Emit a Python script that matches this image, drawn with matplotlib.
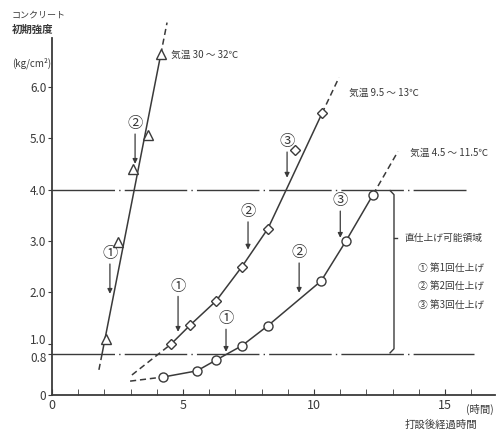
"""Concrete early strength vs elapsed time after placing, three temperature ranges."""
import matplotlib
matplotlib.use("Agg")
import matplotlib.pyplot as plt
from matplotlib.transforms import ScaledTranslation

plt.rcParams["font.family"] = ["Noto Sans CJK JP", "DejaVu Sans"]

INK = "#3a3a3a"

# --- data --------------------------------------------------------------
# 気温 30～32℃ (triangles)
hot_x = [2.06, 2.53, 3.10, 3.66, 4.16]
hot_y = [1.09, 2.97, 4.39, 5.07, 6.63]
hot_fit_x = [1.91, 4.15]
hot_fit_y = [0.80, 6.63]
hot_lo_x, hot_lo_y = [1.79, 1.91], [0.49, 0.80]
hot_hi_x, hot_hi_y = [4.15, 4.39], [6.63, 7.25]

# 気温 9.5～13℃ (diamonds)
mid_x = [4.54, 5.27, 6.26, 7.25, 8.24, 9.27, 10.30]
mid_y = [0.99, 1.36, 1.83, 2.50, 3.24, 4.76, 5.48]
mid_fit_x = [4.54, 5.27, 6.26, 7.25, 8.24, 8.97, 10.30]
mid_fit_y = [0.99, 1.36, 1.83, 2.50, 3.24, 4.03, 5.48]
mid_lo_x, mid_lo_y = [3.05, 4.54], [0.39, 0.99]
mid_hi_x, mid_hi_y = [10.30, 10.95], [5.48, 6.18]

# 気温 4.5～11.5℃ (circles)
cold_x = [4.24, 5.53, 6.26, 7.25, 8.24, 10.27, 11.22, 12.25]
cold_y = [0.35, 0.47, 0.68, 0.96, 1.35, 2.22, 3.00, 3.90]
cold_lo_x, cold_lo_y = [2.98, 4.24], [0.27, 0.35]
cold_hi_x, cold_hi_y = [12.25, 13.20], [3.90, 4.74]

# finishing-pass markers: (label, x, circle y, arrow tip y)
passes = [
    ("②", 3.17, 5.28, 4.50), ("①", 2.21, 2.75, 1.97),
    ("①", 4.81, 2.12, 1.23), ("②", 7.48, 3.57, 2.83), ("③", 8.97, 4.93, 4.23),
    ("①", 6.64, 1.48, 0.84), ("②", 9.43, 2.77, 1.99), ("③", 11.0, 3.78, 3.06),
]

temp_labels = [("気温 30 ～ 32℃", 4.55, 6.63),
               ("気温 9.5 ～ 13℃", 11.35, 5.88),
               ("気温 4.5 ～ 11.5℃", 13.65, 4.72)]

y_ticks = [0, 0.8, 1.0, 2.0, 3.0, 4.0, 5.0, 6.0]
y_tick_labels = ["0", "0.8", "1.0", "2.0", "3.0", "4.0", "5.0", "6.0"]
x_ticks = [0, 5, 10, 15]
upper_limit, lower_limit = 4.0, 0.8

# --- figure ---------------------------------------------------------------
fig = plt.figure(figsize=(5.01, 4.37), dpi=100)
ax = fig.add_axes([0.1038, 0.0961, 0.884, 0.817])
ax.set_xlim(0, 16.9)
ax.set_ylim(0, 6.95)

for s in ("top", "right"):
    ax.spines[s].set_visible(False)
for s in ("left", "bottom"):
    ax.spines[s].set_color(INK)
    ax.spines[s].set_linewidth(1.3)

ax.set_xticks(x_ticks)
ax.set_xticks(range(0, 17), minor=True)
ax.tick_params(axis="x", which="both", direction="in", length=4, color=INK,
               labelsize=9, labelcolor=INK, pad=3)
ax.set_yticks(y_ticks)
ax.set_yticklabels(y_tick_labels)
ax.tick_params(axis="y", direction="out", length=3, color=INK, labelsize=8.5,
               labelcolor=INK, pad=1)
# 1.0 and 0.8 sit close together: nudge them apart like the original
nudges = {"1.0": 3 / 72, "0.8": -2 / 72}
for lab in ax.get_yticklabels():
    dy = nudges.get(lab.get_text())
    if dy:
        lab.set_transform(lab.get_transform() + ScaledTranslation(0, dy, fig.dpi_scale_trans))

# strength limits
ls_limit = (0, (45, 3, 1, 3))
ax.plot([0, 15.8], [upper_limit, upper_limit], color=INK, lw=1.0, ls=ls_limit)
ax.plot([0, 16.1], [lower_limit, lower_limit], color=INK, lw=1.0, ls=ls_limit)

line_kw = dict(color=INK, lw=1.1, clip_on=False)
dash_kw = dict(color=INK, lw=1.1, ls=(0, (4, 2.5)), clip_on=False)

# hot
ax.plot(hot_fit_x, hot_fit_y, **line_kw)
ax.plot(hot_lo_x, hot_lo_y, **dash_kw)
ax.plot(hot_hi_x, hot_hi_y, **dash_kw)
ax.plot(hot_x, hot_y, ls="none", marker="^", ms=6.5, mfc="white", mec=INK,
        mew=1.0, clip_on=False, zorder=4)

# mid
ax.plot(mid_fit_x, mid_fit_y, **line_kw)
ax.plot(mid_lo_x, mid_lo_y, **dash_kw)
ax.plot(mid_hi_x, mid_hi_y, **dash_kw)
ax.plot(mid_x, mid_y, ls="none", marker="D", ms=5.5, mfc="white", mec=INK,
        mew=1.0, zorder=4)

# cold
ax.plot(cold_x, cold_y, **line_kw)
ax.plot(cold_lo_x, cold_lo_y, **dash_kw)
ax.plot(cold_hi_x, cold_hi_y, **dash_kw)
ax.plot(cold_x, cold_y, ls="none", marker="o", ms=6.5, mfc="white", mec=INK,
        mew=1.0, zorder=4)

for num, x, cy, tip in passes:
    ax.text(x, cy, num, ha="center", va="center", fontsize=11, color=INK)
    ax.annotate("", xy=(x, tip), xytext=(x, cy - 0.2),
                arrowprops=dict(arrowstyle="-|>", color=INK, lw=0.9,
                                mutation_scale=7, shrinkA=0, shrinkB=0))

for txt, x, y in temp_labels:
    ax.text(x, y, txt, ha="left", va="center", fontsize=7, color=INK)

# bracket for the finishable region
bx = 13.05
ax.plot([bx - 0.15, bx, bx, bx - 0.15],
        [upper_limit - 0.02, upper_limit - 0.1, lower_limit + 0.1, lower_limit + 0.02],
        color=INK, lw=1.0, clip_on=False)
ax.plot([bx, bx + 0.12], [3.05, 3.05], color=INK, lw=1.0)
ax.text(13.45, 3.05, "直仕上げ可能領域", ha="left", va="center", fontsize=7, color=INK)
for i, txt in enumerate(["① 第1回仕上げ", "② 第2回仕上げ", "③ 第3回仕上げ"]):
    ax.text(13.95, 2.48 - 0.36 * i, txt, ha="left", va="center", fontsize=7, color=INK)

# axis titles
fig.text(0.024, 0.966, "コンクリート", ha="left", va="center", fontsize=6.5, color=INK)
fig.text(0.024, 0.932, "初期強度", ha="left", va="center", fontsize=7.5, color=INK,
         fontweight="bold")
fig.text(0.024, 0.856, "(kg/cm²)", ha="left", va="center", fontsize=7, color=INK)
fig.text(0.93, 0.062, "(時間)", ha="left", va="center", fontsize=7.5, color=INK)
fig.text(0.88, 0.027, "打設後経過時間", ha="center", va="center", fontsize=7.5, color=INK)

fig.savefig("out.png", dpi=100, facecolor="white")
